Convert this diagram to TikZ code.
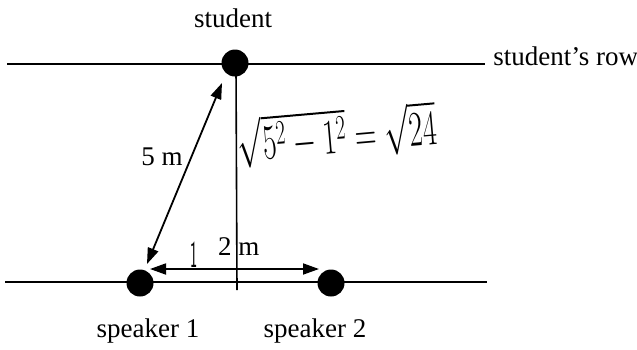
\documentclass[tikz,border=0pt]{standalone}
\usepackage{fontspec}
\usepackage{graphicx}
\setmainfont{Liberation Serif}
\usetikzlibrary{arrows.meta}
\begin{document}
\begin{tikzpicture}[x=0.5pt,y=-0.5pt,
  row/.style={line width=0.9pt},
  dot/.style={circle,fill=black,minimum size=13.5pt,inner sep=0pt},
  lbl/.style={font=\fontsize{13.5}{16}\selectfont,inner sep=0pt,anchor=base},
  dim/.style={line width=0.9pt,{Triangle[length=8pt,width=5.5pt]}-{Triangle[length=8pt,width=5.5pt]}},
  hand/.style={font=\fontsize{24}{28}\selectfont,inner sep=0pt}
]
\useasboundingbox (0,0) rectangle (637,349);
% rows
\coordinate (rowTL) at (7,64);
\coordinate (rowTR) at (485,64);
\coordinate (rowBL) at (5,282);
\coordinate (rowBR) at (487,282);
\draw[row] (rowTL) -- (rowTR);
\draw[row] (rowBL) -- (rowBR);
% dots
\node[dot] (stu) at (235,63) {};
\node[dot] (sp1) at (140,283) {};
\node[dot] (sp2) at (331,283) {};
% vertical line
\coordinate (vtop) at (236,68);
\coordinate (vbot) at (237,290);
\draw[line width=0.8pt] (vtop) -- (vbot);
% arrows
\coordinate (a1) at (147,264);
\coordinate (a2) at (222,83);
\draw[dim] (a1) -- (a2);
\coordinate (h1) at (150,269);
\coordinate (h2) at (319,269);
\draw[dim] (h1) -- (h2);
% labels
\node[lbl] (tstu) at (233,27) {student};
\node[lbl,anchor=base west] (trow) at (493,65) {student’s row};
\node[lbl] (tsp1) at (148,337) {speaker 1};
\node[lbl] (tsp2) at (315,337) {speaker 2};
\node[lbl] (t5m) at (162,165) {5 m};
\node[lbl,anchor=base east] (t2) at (232,255) {2};
\node[lbl,anchor=base west] (tm) at (238,255) {m};
% handwritten notes
\node[font=\fontsize{19}{22}\selectfont,inner sep=0pt,anchor=base] (t1) at (194,267) {\sffamily\scalebox{0.4}[1]{1}};
\node[hand,anchor=base west,rotate=5] (tf) at (239,162) {\scalebox{0.6}[1]{$\sqrt{5^{2}-1^{2}}=\sqrt{24}$}};
\end{tikzpicture}
\end{document}
